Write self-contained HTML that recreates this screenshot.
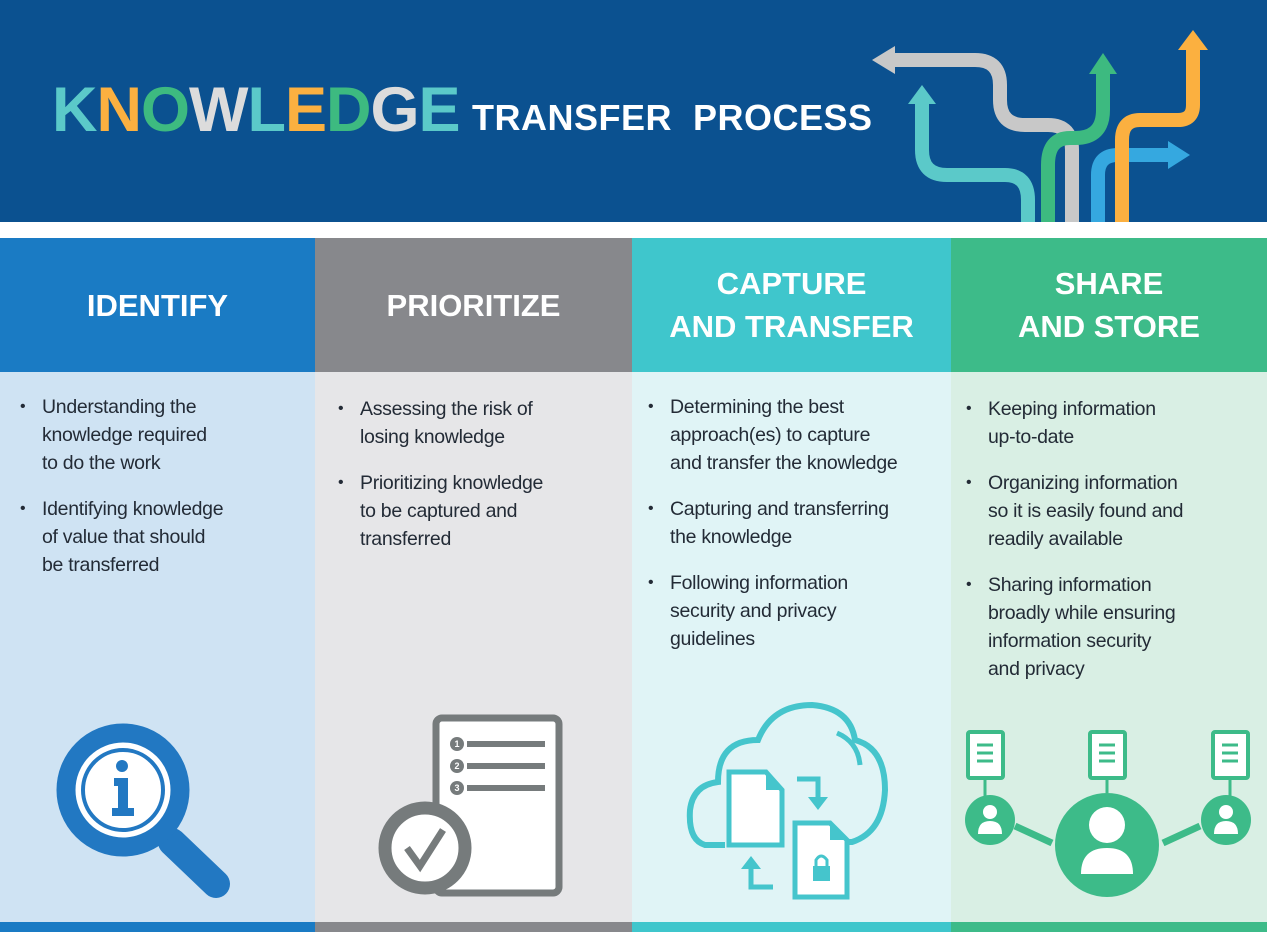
<!DOCTYPE html>
<html><head><meta charset="utf-8"><style>
*{margin:0;padding:0;box-sizing:border-box}
body{width:1267px;height:932px;position:relative;overflow:hidden;background:#fff;font-family:"Liberation Sans",sans-serif}
.abs{position:absolute}
.hd{position:absolute;top:238px;height:134px;color:#fff;font-weight:bold;font-size:31px;text-align:center;display:flex;align-items:center;justify-content:center;line-height:43px}
.bd{position:absolute;top:372px;height:550px}
.bb{position:absolute;top:922px;height:10px}
ul{list-style:none;position:absolute;color:#232b36;font-size:19.5px;line-height:28px;letter-spacing:-0.3px}
li{position:relative;padding-left:22px;margin-bottom:18px}
li:before{content:"•";position:absolute;left:0;top:0;font-size:16px}
</style></head><body>
<div class="abs" style="left:0;top:0;width:1267px;height:222px;background:#0b5190"></div>
<div class="abs" style="left:52px;top:75px;font-size:63px;font-weight:bold;letter-spacing:-1px;line-height:70px;white-space:nowrap">
<span style="color:#5bc9c9">K</span><span style="color:#fbb040">N</span><span style="color:#3dba80">O</span><span style="color:#dcdcdc">W</span><span style="color:#5bc9c9">L</span><span style="color:#fbb040">E</span><span style="color:#3dba80">D</span><span style="color:#dcdcdc">G</span><span style="color:#5bc9c9">E</span></div>
<div class="abs" style="left:472px;top:98px;font-size:36px;font-weight:bold;color:#fff;letter-spacing:0.5px;line-height:40px;white-space:nowrap">TRANSFER&nbsp; PROCESS</div>
<svg class="abs" style="left:0;top:0" width="1267" height="222">
<g fill="none" stroke-width="14" stroke-linejoin="round">
<path d="M890 60 H975 Q1000 60 1000 85 V100 Q1000 125 1025 125 H1048 Q1072 125 1072 150 V222" stroke="#c8c8c8"/>
<path d="M922 100 V150 Q922 175 947 175 H1005 Q1028 175 1028 200 V222" stroke="#5bc9c9"/>
<path d="M1103 70 V110 Q1103 138 1075 138 H1070 Q1048 138 1048 165 V222" stroke="#3dba80"/>
<path d="M1098 222 V175 Q1098 155 1118 155 H1170" stroke="#35a8e0"/>
<path d="M1193 45 V105 Q1193 120 1178 120 H1140 Q1122 120 1122 140 V222" stroke="#fbb040"/>
</g>
<polygon points="872,60 895,46 895,74" fill="#c8c8c8"/>
<polygon points="922,85 908,104 936,104" fill="#5bc9c9"/>
<polygon points="1103,53 1089,74 1117,74" fill="#3dba80"/>
<polygon points="1190,155 1168,141 1168,169" fill="#35a8e0"/>
<polygon points="1193,30 1178,50 1208,50" fill="#fbb040"/>
</svg>

<div class="hd" style="left:0;width:315px;background:#1a7bc4">IDENTIFY</div>
<div class="hd" style="left:315px;width:317px;background:#87888c">PRIORITIZE</div>
<div class="hd" style="left:632px;width:319px;background:#3fc6cc">CAPTURE<br>AND TRANSFER</div>
<div class="hd" style="left:951px;width:316px;background:#3dbb89">SHARE<br>AND STORE</div>
<div class="bd" style="left:0;width:315px;background:#cfe3f3"></div>
<div class="bd" style="left:315px;width:317px;background:#e6e6e8"></div>
<div class="bd" style="left:632px;width:319px;background:#e0f4f6"></div>
<div class="bd" style="left:951px;width:316px;background:#d9efe4"></div>
<div class="bb" style="left:0;width:315px;background:#1a7bc4"></div>
<div class="bb" style="left:315px;width:317px;background:#87888c"></div>
<div class="bb" style="left:632px;width:319px;background:#3fc6cc"></div>
<div class="bb" style="left:951px;width:316px;background:#3dbb89"></div>

<ul style="left:20px;top:393px"><li>Understanding the<br>knowledge required<br>to do the work</li><li>Identifying knowledge<br>of value that should<br>be transferred</li></ul>
<ul style="left:338px;top:395px"><li>Assessing the risk of<br>losing knowledge</li><li>Prioritizing knowledge<br>to be captured and<br>transferred</li></ul>
<ul style="left:648px;top:393px"><li>Determining the best<br>approach(es) to capture<br>and transfer the knowledge</li><li>Capturing and transferring<br>the knowledge</li><li>Following information<br>security and privacy<br>guidelines</li></ul>
<ul style="left:966px;top:395px"><li>Keeping information<br>up-to-date</li><li>Organizing information<br>so it is easily found and<br>readily available</li><li>Sharing information<br>broadly while ensuring<br>information security<br>and privacy</li></ul>

<svg class="abs" style="left:0;top:0" width="1267" height="932">
<line x1="172" y1="842" x2="216" y2="884" stroke="#2278c2" stroke-width="28" stroke-linecap="round"/>
<circle cx="123" cy="790" r="57" fill="#fff" stroke="#2278c2" stroke-width="19"/>
<circle cx="123" cy="790" r="40" fill="none" stroke="#2278c2" stroke-width="4"/>
<circle cx="122" cy="766" r="6" fill="#2278c2"/>
<path d="M114 778 H128 V808 H134 V816 H112 V808 H118 V786 H114 Z" fill="#2278c2"/>
<rect x="436" y="718" width="123" height="175" rx="6" fill="#fff" stroke="#767b7c" stroke-width="7"/>
<g fill="#767b7c"><circle cx="457" cy="744" r="7"/><circle cx="457" cy="766" r="7"/><circle cx="457" cy="788" r="7"/>
<rect x="467" y="741" width="78" height="6"/><rect x="467" y="763" width="78" height="6"/><rect x="467" y="785" width="78" height="6"/></g>
<g fill="#fff" font-size="9" font-weight="bold" text-anchor="middle"><text x="457" y="747">1</text><text x="457" y="769">2</text><text x="457" y="791">3</text></g>
<circle cx="425" cy="848" r="40" fill="#fff" stroke="#767b7c" stroke-width="13"/>
<path d="M407 848 L420 866 L443 830" fill="none" stroke="#767b7c" stroke-width="7"/>
<path d="M725 845 H705 Q688 840 690 810 Q693 785 718 782 Q718 740 758 740 Q772 705 812 705 Q850 708 855 740 Q885 748 885 790 Q883 832 852 842 H828" fill="none" stroke="#45c5cc" stroke-width="6"/>
<path d="M837 733 Q858 742 860 765" fill="none" stroke="#45c5cc" stroke-width="5"/>
<path d="M729 772 H766 L782 790 V845 H729 Z" fill="#fff" stroke="#45c5cc" stroke-width="5"/>
<path d="M766 772 V790 H782" fill="#45c5cc"/>
<path d="M795 823 H830 L847 840 V897 H795 Z" fill="#fff" stroke="#45c5cc" stroke-width="5"/>
<path d="M830 823 V840 H847" fill="#45c5cc"/>
<rect x="813" y="866" width="17" height="15" fill="#45c5cc"/>
<path d="M816 866 V860 Q821 852 827 860 V866" fill="none" stroke="#45c5cc" stroke-width="3"/>
<path d="M797 779 H818 V800" fill="none" stroke="#45c5cc" stroke-width="5"/>
<polygon points="808,797 828,797 818,810" fill="#45c5cc"/>
<path d="M773 887 H751 V866" fill="none" stroke="#45c5cc" stroke-width="5"/>
<polygon points="741,869 761,869 751,856" fill="#45c5cc"/>
<g stroke="#3dbb89" fill="#fff" stroke-width="4">
<rect x="968" y="732" width="35" height="46" rx="2"/><rect x="1090" y="732" width="35" height="46" rx="2"/><rect x="1213" y="732" width="35" height="46" rx="2"/>
</g>
<g stroke="#3dbb89" stroke-width="3" fill="none">
<path d="M977 745 H993 M977 753 H993 M977 761 H993 M1099 745 H1115 M1099 753 H1115 M1099 761 H1115 M1222 745 H1238 M1222 753 H1238 M1222 761 H1238"/>
<path d="M985 778 V797 M1107 778 V793 M1230 778 V797"/>
<path d="M1015 826 L1052 843 M1163 843 L1200 826" stroke-width="7"/>
</g>
<circle cx="990" cy="820" r="25" fill="#3dbb89"/><circle cx="1107" cy="845" r="52" fill="#3dbb89"/><circle cx="1226" cy="820" r="25" fill="#3dbb89"/>
<g fill="#fff">
<circle cx="990" cy="812" r="7"/><path d="M978 834 Q978 821 990 821 Q1002 821 1002 834 Z"/>
<circle cx="1226" cy="812" r="7"/><path d="M1214 834 Q1214 821 1226 821 Q1238 821 1238 834 Z"/>
<circle cx="1107" cy="825" r="18"/><path d="M1081 874 Q1081 848 1107 848 Q1133 848 1133 874 Z"/>
</g>
</svg>
</body></html>
